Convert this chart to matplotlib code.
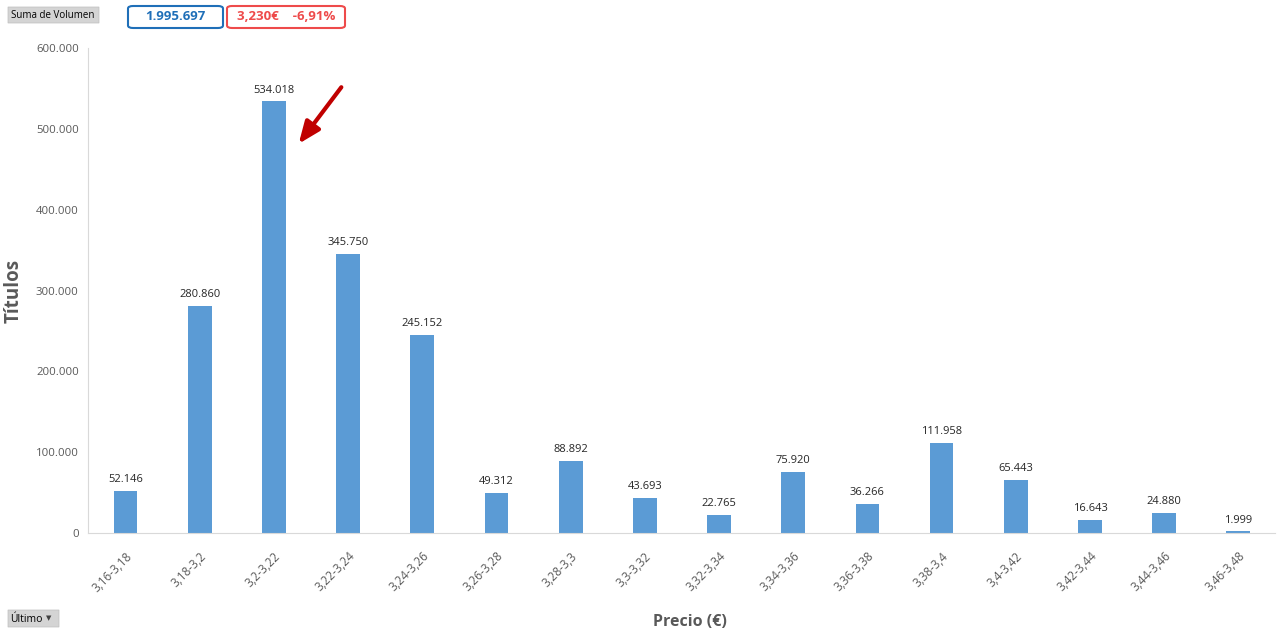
import matplotlib.pyplot as plt
from matplotlib.patches import FancyBboxPatch, FancyArrowPatch

# data
rangos = ["3,16-3,18", "3,18-3,2", "3,2-3,22", "3,22-3,24", "3,24-3,26", "3,26-3,28",
          "3,28-3,3", "3,3-3,32", "3,32-3,34", "3,34-3,36", "3,36-3,38", "3,38-3,4",
          "3,4-3,42", "3,42-3,44", "3,44-3,46", "3,46-3,48"]
volumen = [52146, 280860, 534018, 345750, 245152, 49312, 88892, 43693,
           22765, 75920, 36266, 111958, 65443, 16643, 24880, 1999]
yticks = [0, 100000, 200000, 300000, 400000, 500000, 600000]

def fmt(v):
    return f"{v:,}".replace(",", ".")

gris = "#595959"
plt.rcParams['font.family'] = ['Open Sans', 'DejaVu Sans']

fig = plt.figure(figsize=(12.78, 6.33), dpi=100)
ax = fig.add_axes([0.0692, 0.158, 0.9288, 0.766])

x = range(len(rangos))
ax.bar(x, volumen, width=0.32, color="#5B9BD5", zorder=2)
for i, v in zip(x, volumen):
    ax.text(i, v + 7000, fmt(v), ha="center", va="bottom", fontsize=8, color="#262626")

ax.set_xlim(-0.5, len(rangos) - 0.5)
ax.set_ylim(0, 600000)
ax.set_yticks(yticks)
ax.set_yticklabels([fmt(t) for t in yticks], fontsize=8.2, color=gris)
ax.set_xticks(list(x))
ax.set_xticklabels(rangos, rotation=45, ha="right", rotation_mode="anchor",
                   fontsize=8.5, color=gris)
ax.tick_params(axis="y", length=0, pad=7)
ax.tick_params(axis="x", length=0, pad=12)
for s in ["top", "right"]:
    ax.spines[s].set_visible(False)
ax.spines["left"].set_color("#D9D9D9")
ax.spines["bottom"].set_color("#D9D9D9")

ax.set_ylabel("Títulos", fontsize=13.5, fontweight="bold", color=gris, va="center")
ax.yaxis.set_label_coords(-0.063, 0.5)
fig.text(0.54, 0.005, "Precio (€)", ha="center", va="bottom", fontsize=11.5,
         fontweight="bold", color=gris)

# arrow pointing to the peak
fig.patches.append(FancyArrowPatch(
    (343 / 1278, 1 - 85 / 633), (297 / 1278, 1 - 146 / 633), transform=fig.transFigure,
    arrowstyle="-|>,head_length=11,head_width=4.5", color="#C00000", lw=3, mutation_scale=1.2))

# pivot buttons and summary boxes
def caja(x0, y0, w, h, fc, ec, lw=1.0, r=0.0):
    fig.patches.append(FancyBboxPatch((x0 / 1278, 1 - (y0 + h) / 633), w / 1278, h / 633,
                                      boxstyle=f"round,pad=0,rounding_size={r}",
                                      transform=fig.transFigure, fc=fc, ec=ec, lw=lw))

caja(8, 7, 91, 16, "#D4D4D4", "#BFBFBF", 0.5)
fig.text(11 / 1278, 1 - 15 / 633, "Suma de Volumen", fontsize=7, va="center", color="black")
caja(8, 610, 51, 17, "#D4D4D4", "#BFBFBF", 0.5)
fig.text(10 / 1278, 1 - 619 / 633, "Último", fontsize=7.5, va="center", color="black")
fig.text(46 / 1278, 1 - 619 / 633, "▼", fontsize=5, va="center", color="#404040")

caja(128, 6, 95, 22, "white", "#1F6FB8", 1.5, 0.004)
fig.text(175 / 1278, 1 - 17 / 633, "1.995.697", fontsize=9.5, fontweight="bold",
         ha="center", va="center", color="#1F6FB8")
caja(227, 6, 118, 22, "white", "#EE4B4B", 1.5, 0.004)
fig.text(286 / 1278, 1 - 17 / 633, "3,230€    -6,91%", fontsize=9.5, fontweight="bold",
         ha="center", va="center", color="#EE4B4B")

fig.savefig("out.png", dpi=100)
